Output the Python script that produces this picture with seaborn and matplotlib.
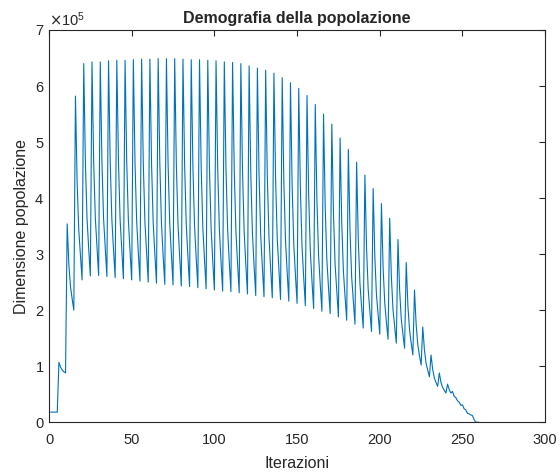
import matplotlib
matplotlib.use("Agg")
import matplotlib.pyplot as plt
from matplotlib.ticker import ScalarFormatter
import numpy as np
import seaborn as sns

# population size (units of 1e5), one value per iteration starting at 1
popolazione = [
    0.18, 0.18, 0.18, 0.18, 0.18,
    1.07, 0.98, 0.93, 0.90, 0.88,
    3.54, 2.82, 2.42, 2.20, 2.00,
    5.82, 4.29, 3.43, 2.97, 2.54,
    6.40, 4.64, 3.63, 3.10, 2.61,
    6.43, 4.66, 3.65, 3.12, 2.62,
    6.43, 4.65, 3.63, 3.10, 2.60,
    6.45, 4.65, 3.62, 3.08, 2.58,
    6.46, 4.65, 3.61, 3.07, 2.56,
    6.46, 4.64, 3.60, 3.05, 2.54,
    6.47, 4.63, 3.59, 3.03, 2.52,
    6.48, 4.63, 3.57, 3.02, 2.50,
    6.48, 4.62, 3.56, 3.00, 2.48,
    6.49, 4.62, 3.55, 2.98, 2.46,
    6.49, 4.61, 3.54, 2.98, 2.45,
    6.49, 4.60, 3.53, 2.96, 2.43,
    6.48, 4.59, 3.52, 2.95, 2.42,
    6.47, 4.58, 3.50, 2.93, 2.40,
    6.47, 4.57, 3.48, 2.91, 2.38,
    6.46, 4.55, 3.47, 2.89, 2.36,
    6.45, 4.54, 3.45, 2.87, 2.34,
    6.43, 4.52, 3.44, 2.86, 2.33,
    6.42, 4.51, 3.42, 2.84, 2.31,
    6.40, 4.49, 3.40, 2.82, 2.29,
    6.36, 4.45, 3.37, 2.79, 2.26,
    6.32, 4.42, 3.34, 2.77, 2.24,
    6.28, 4.39, 3.32, 2.75, 2.22,
    6.23, 4.35, 3.28, 2.72, 2.19,
    6.15, 4.29, 3.24, 2.68, 2.16,
    6.06, 4.23, 3.18, 2.63, 2.12,
    5.96, 4.16, 3.13, 2.58, 2.08,
    5.83, 4.06, 3.06, 2.52, 2.03,
    5.67, 3.95, 2.98, 2.46, 1.98,
    5.50, 3.84, 2.90, 2.40, 1.94,
    5.32, 3.72, 2.81, 2.33, 1.88,
    5.07, 3.56, 2.70, 2.24, 1.82,
    4.87, 3.42, 2.59, 2.16, 1.75,
    4.64, 3.26, 2.48, 2.06, 1.68,
    4.41, 3.11, 2.37, 1.98, 1.62,
    4.17, 2.96, 2.27, 1.91, 1.57,
    3.90, 2.77, 2.13, 1.79, 1.48,
    3.64, 2.60, 2.01, 1.70, 1.41,
    3.26, 2.36, 1.84, 1.57, 1.32,
    2.85, 2.08, 1.65, 1.41, 1.20,
    2.36, 1.74, 1.38, 1.19, 1.02,
    1.70, 1.29, 1.05, 0.93, 0.81,
    1.20, 0.94, 0.79, 0.71, 0.64,
    0.88, 0.71, 0.62, 0.57, 0.52,
    0.68, 0.58, 0.52, 0.55, 0.46,
    0.44, 0.38, 0.36, 0.30, 0.31,
    0.24, 0.22, 0.16, 0.15, 0.13,
    0.12, 0.05, 0.00, 0.00, 0.00,
]
iterazioni = np.arange(1, len(popolazione) + 1)

x_ticks = [0, 50, 100, 150, 200, 250, 300]
y_ticks = [0, 1e5, 2e5, 3e5, 4e5, 5e5, 6e5, 7e5]

sns.set_style("white")
plt.rcParams['font.family'] = ['Liberation Sans', 'DejaVu Sans']

fig = plt.figure(figsize=(5.6, 4.76), dpi=100)
ax = fig.add_axes([0.0875, 0.113, 0.886, 0.824])

sns.lineplot(x=iterazioni, y=np.array(popolazione) * 1e5, ax=ax,
             color='#0072BD', linewidth=0.8)

ax.set_xlim(0, 300)
ax.set_ylim(0, 7e5)
ax.set_xticks(x_ticks)
ax.set_yticks(y_ticks)

fmt = ScalarFormatter(useMathText=True)
fmt.set_powerlimits((0, 0))
ax.yaxis.set_major_formatter(fmt)
off = ax.yaxis.get_offset_text()
off.set_fontsize(10.5)
off.set_color('#4d4d4d')

for side in ax.spines.values():
    side.set_color('#262626')
    side.set_linewidth(0.8)
ax.tick_params(direction='in', length=4, width=0.8, colors='#262626',
               labelcolor='#262626', labelsize=10.5, top=True, right=True)
ax.tick_params(axis='x', pad=8)

ax.set_title('Demografia della popolazione', fontsize=11.5, fontweight='bold', pad=5)
ax.set_xlabel('Iterazioni', fontsize=11.5, color='#262626', labelpad=6)
ax.set_ylabel('Dimensione popolazione', fontsize=11.5, color='#262626')

fig.savefig('out.png', dpi=100)
